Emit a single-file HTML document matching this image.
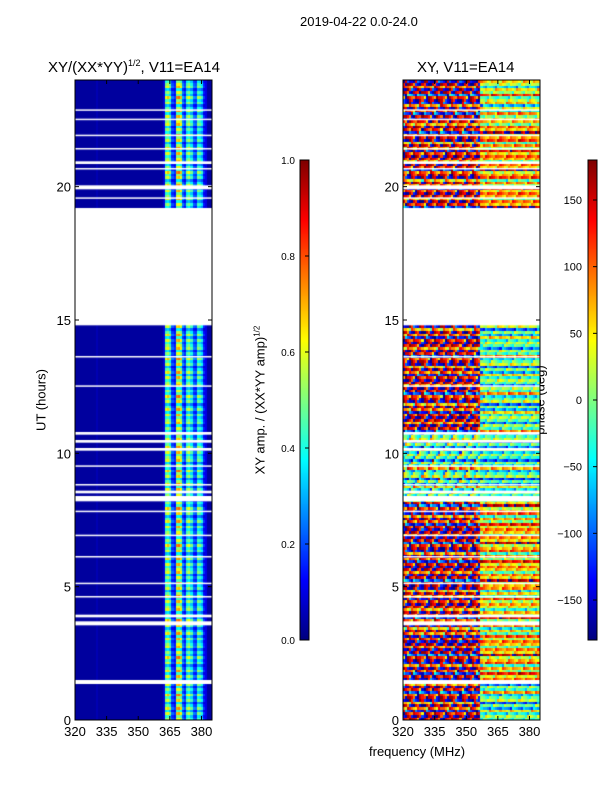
<!DOCTYPE html>
<html><head><meta charset="utf-8">
<style>
body{margin:0;background:#fff;}
#wrap{position:relative;width:600px;height:800px;font-family:"Liberation Sans",sans-serif;color:#000;}
canvas{position:absolute;}
.t{position:absolute;white-space:nowrap;}
</style></head><body>
<div id="wrap">
<div class="t" style="left:300px;top:14px;font-size:13px;">2019-04-22 0.0-24.0</div>
<div class="t" style="left:48px;top:58px;font-size:15px;">XY/(XX*YY)<sup style="font-size:9px">1/2</sup>, V11=EA14</div>
<div class="t" style="left:417px;top:59px;font-size:15px;">XY, V11=EA14</div>
<div class="t" style="left:41px;top:400px;font-size:13px;transform:translate(-50%,-50%) rotate(-90deg);">UT (hours)</div>
<div class="t" style="left:369px;top:744px;font-size:13px;">frequency (MHz)</div>
<div class="t" style="left:260px;top:400px;font-size:13px;transform:translate(-50%,-50%) rotate(-90deg);">XY amp. / (XX*YY amp)<sup style="font-size:8px">1/2</sup></div>
<div class="t" style="left:540px;top:400px;font-size:13px;transform:translate(-50%,-50%) rotate(-90deg);">phase (deg)</div>
<canvas id="c1" width="137" height="640" style="left:75px;top:80px"></canvas>
<canvas id="c2" width="137" height="640" style="left:403px;top:80px"></canvas>
<canvas id="cb1" width="9" height="480" style="left:300px;top:160px"></canvas>
<canvas id="cb2" width="9" height="480" style="left:588px;top:160px"></canvas>
<svg id="ov" width="600" height="800" style="position:absolute;left:0;top:0"></svg>
</div>
<script>
// ---- data ----
const freqRange=[320,385];
const timeRange=[0,24];
const xTicks=[320,335,350,365,380];
const yTicks=[0,5,10,15,20];
const ampTicks=[0.0,0.2,0.4,0.6,0.8,1.0];
const phaseTicks=[-150,-100,-50,0,50,100,150];
// amplitude per 1-MHz channel starting at 320 MHz
const ampChan=[.03,.03,.03,.03,.03,.03,.03,.03,.03,.03,.05,.03,.03,.03,.03,.03,.03,.03,.03,.03,.03,.03,.03,.03,.03,.03,.03,.03,.03,.03,.03,.03,.03,.03,.03,.03,.03,.03,.03,.03,.03,.03,.08,.5,.55,.45,.2,.15,.6,.62,.55,.25,.18,.45,.5,.4,.22,.2,.45,.42,.35,.15,.1,.03,.03];
const ampRowScale=[1,0.8,1.15,0.7,1.2,0.9,0.6,1.1,0.85,1.25,0.75,1.0,0.65,1.15];
// flagged (blank) time intervals in hours
const gaps=[[1.35,1.5],[3.55,3.7],[3.85,3.95],[4.6,4.65],[5.1,5.15],[6.1,6.15],[6.9,6.95],[7.8,7.85],[8.2,8.4],[8.5,8.6],[8.8,8.85],[9.5,9.55],[10.1,10.2],[10.4,10.5],[10.7,10.8],[12.5,12.55],[13.6,13.65],[14.8,19.2],[19.55,19.6],[19.9,20.05],[20.65,20.7],[20.85,20.95],[21.4,21.45],[21.9,21.95],[22.5,22.55],[22.85,22.9]];
// phase blocks: [startH,endH,lowFreqPhase,highFreqPhase]
const phaseBlocks=[[0,1.5,150,-20],[1.5,3,170,60],[3,5,140,40],[5,8.2,160,60],[8.2,10.8,-20,-30],[10.8,14.8,150,-15],[19.2,22.5,140,70],[22.5,24,170,20]];
const phaseColJit=[0,40,-30,60,-80,20,90,-40,10,-120,30,70,-20,50,-60,0,110,-30,20,-90];
const phaseRowJit=[0,60,-40,120,-100,30,-150,80,10,-70,170,-20,50,-130];
// ---- drawing ----
function jet(v){v=Math.max(0,Math.min(1,v));
 const r=Math.max(0,Math.min(1,1.5-Math.abs(4*v-3))),g=Math.max(0,Math.min(1,1.5-Math.abs(4*v-2))),b=Math.max(0,Math.min(1,1.5-Math.abs(4*v-1)));
 return `rgb(${r*255|0},${g*255|0},${b*255|0})`;}
const W=137,H=640;
const xs=f=>(f-freqRange[0])/(freqRange[1]-freqRange[0])*W;
const ys=t=>H-(t-timeRange[0])/(timeRange[1]-timeRange[0])*H;
const dt=0.1;
const ctx1=document.getElementById('c1').getContext('2d');
const ctx2=document.getElementById('c2').getContext('2d');
ctx1.fillStyle='#fff';ctx1.fillRect(0,0,W,H);ctx2.fillStyle='#fff';ctx2.fillRect(0,0,W,H);
function block(t){return phaseBlocks.find(b=>t>=b[0]&&t<b[1]);}
for(let r=0;r*dt<24;r++){const t=r*dt;
 const y0=Math.floor(ys(t+dt)),y1=Math.ceil(ys(t));
 const b=block(t);if(!b)continue;
 ampChan.forEach((a,c)=>{const f=freqRange[0]+c;
  const x0=Math.floor(xs(f)),x1=Math.ceil(xs(f+1));
  ctx1.fillStyle=jet(a>0.1?a*ampRowScale[r%ampRowScale.length]:a);
  ctx1.fillRect(x0,y0,x1-x0,y1-y0);
  const low=f<357;
  let p=(low?b[2]:b[3])+phaseColJit[(c*7+r*3)%phaseColJit.length]*(low?0.7:0.4)+phaseRowJit[r%phaseRowJit.length]*0.6;
  p=((p+180)%360+360)%360-180;
  ctx2.fillStyle=jet((p+180)/360);
  ctx2.fillRect(x0,y0,x1-x0,y1-y0);
 });
}
[ctx1,ctx2].forEach(c=>{c.fillStyle='#fff';gaps.forEach(g=>{const y0=ys(g[1]),y1=ys(g[0]);c.fillRect(0,y0,W,Math.max(1.5,y1-y0));});});
['cb1','cb2'].forEach(id=>{const c=document.getElementById(id).getContext('2d');
 for(let i=0;i<480;i++){c.fillStyle=jet(1-i/479);c.fillRect(0,i,9,1);}});
const svg=document.getElementById('ov');const NS='http://www.w3.org/2000/svg';
function el(tag,attrs,txt){const e=document.createElementNS(NS,tag);for(const k in attrs)e.setAttribute(k,attrs[k]);if(txt!==undefined)e.textContent=txt;svg.appendChild(e);return e;}
[75,403].forEach((px,pi)=>{
 const fr=el('rect',{x:px,y:80,width:W,height:H,fill:'none',stroke:'#000','stroke-width':1});
 
 
 xTicks.forEach(v=>{const x=px+xs(v);
  el('line',{x1:x,y1:720,x2:x,y2:716,stroke:'#000'});el('line',{x1:x,y1:80,x2:x,y2:84,stroke:'#000'});
  const tx=el('text',{x:x,y:736,'font-size':13,'text-anchor':'middle','font-family':'Liberation Sans'},v);
  
  });
 yTicks.forEach(v=>{const y=80+ys(v);
  el('line',{x1:px,y1:y,x2:px+4,y2:y,stroke:'#000'});el('line',{x1:px+W,y1:y,x2:px+W-4,y2:y,stroke:'#000'});
  const tx=el('text',{x:px-4,y:y+5,'font-size':13,'text-anchor':'end','font-family':'Liberation Sans'},v);
  
  });
});
el('rect',{x:300,y:160,width:9,height:480,fill:'none',stroke:'#000'});
el('rect',{x:588,y:160,width:9,height:480,fill:'none',stroke:'#000'});
ampTicks.forEach(v=>{const y=640-v*480;el('line',{x1:305,y1:y,x2:309,y2:y,stroke:'#000'});
 const tx=el('text',{x:295,y:y+4,'font-size':10,'text-anchor':'end','font-family':'Liberation Sans'},v.toFixed(1));
 
 });
phaseTicks.forEach(v=>{const y=400-v*240/180;el('line',{x1:593,y1:y,x2:597,y2:y,stroke:'#000'});
 const tx=el('text',{x:582,y:y+4,'font-size':11,'text-anchor':'end','font-family':'Liberation Sans'},v<0?'\u2212'+(-v):v);
 
 });
</script>
</body></html>
